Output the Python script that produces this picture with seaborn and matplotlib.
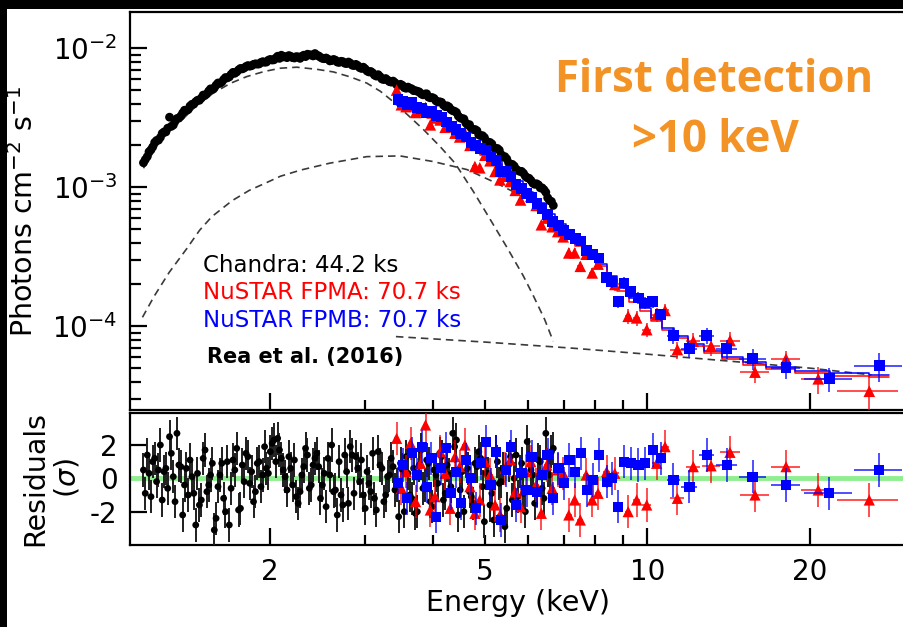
import numpy as np
import matplotlib
matplotlib.use('Agg')
import matplotlib.pyplot as plt
import seaborn as sns
from matplotlib.patches import Rectangle
from matplotlib.ticker import FixedLocator, FixedFormatter, NullFormatter, LogLocator

# ---------------- data ----------------
# Chandra spectrum: energy (keV), flux (1e-3 photons cm^-2 s^-1 keV^-1), residual (sigma)
chandra_E = [
    1.165, 1.184, 1.203, 1.222, 1.242, 1.262, 1.282, 1.302, 1.323, 1.344,
    1.366, 1.388, 1.410, 1.433, 1.456, 1.479, 1.503, 1.527, 1.551, 1.576,
    1.601, 1.627, 1.653, 1.680, 1.707, 1.734, 1.762, 1.790, 1.819, 1.848,
    1.878, 1.908, 1.938, 1.969, 2.001, 2.033, 2.065, 2.098, 2.132, 2.166,
    2.201, 2.236, 2.272, 2.308, 2.345, 2.383, 2.421, 2.460, 2.499, 2.539,
    2.580, 2.621, 2.663, 2.706, 2.749, 2.793, 2.838, 2.883, 2.929, 2.976,
    3.024, 3.072, 3.121, 3.171, 3.222, 3.274, 3.326, 3.379, 3.433, 3.488,
    3.544, 3.601, 3.659, 3.717, 3.777, 3.837, 3.899, 3.961, 4.025, 4.089,
    4.155, 4.221, 4.289, 4.358, 4.428, 4.498, 4.570, 4.644, 4.718, 4.794,
    4.870, 4.948, 5.028, 5.108, 5.190, 5.273, 5.358, 5.443, 5.531, 5.619,
    5.709, 5.800, 5.893, 5.987, 6.083, 6.181, 6.280, 6.380, 6.482, 6.586, 6.692]
chandra_flux = [
    1.50, 1.66, 1.86, 2.10, 2.18, 2.44, 2.50, 3.19, 2.80, 3.12,
    3.25, 3.58, 3.62, 3.95, 4.12, 4.22, 4.60, 4.70, 5.10, 5.18,
    5.62, 5.70, 6.15, 6.22, 6.70, 6.75, 7.15, 7.20, 7.50, 7.48,
    7.72, 7.70, 8.00, 7.95, 8.30, 8.25, 8.75, 8.90, 8.70, 8.85,
    8.55, 8.70, 8.45, 8.90, 9.05, 8.95, 9.15, 8.80, 8.45, 8.50,
    8.10, 8.30, 7.95, 8.05, 7.80, 7.95, 7.55, 7.65, 7.25, 7.30,
    6.85, 6.80, 6.40, 6.45, 6.00, 6.05, 5.75, 5.80, 5.45, 5.50,
    5.20, 5.25, 5.10, 4.95, 4.85, 4.62, 4.70, 4.40, 4.35, 4.10,
    4.08, 3.80, 3.78, 3.55, 3.45, 3.15, 3.10, 2.80, 2.65, 2.60,
    2.38, 2.35, 2.15, 2.10, 1.92, 1.90, 1.72, 1.66, 1.50, 1.46,
    1.35, 1.30, 1.26, 1.17, 1.12, 1.05, 1.04, 0.99, 0.92, 0.80, 0.74]
chandra_resid = [
    0.5, 1.4, -1.1, 1.2, 0.5, -1.3, 0.6, 2.5, 0.1, 2.7,
    0.7, -0.4, -1.0, 0.1, -2.8, -1.6, 1.2, -0.8, 0.2, -3.1,
    -0.5, 0.9, -2.0, -2.8, 1.1, 1.8, -1.8, -0.2, 1.3, 0.4,
    -0.8, 1.0, 0.2, 0.6, 1.6, 2.3, 2.4, 1.2, 0.1, 1.3,
    -0.4, -1.1, -0.8, 0.7, 1.4, -0.4, 1.2, 0.7, -0.4, -1.7,
    0.2, -0.8, -2.2, -1.0, 1.4, -1.5, 1.4, 1.3, -0.2, -1.0,
    0.4, -0.8, -1.2, 1.6, 0.6, -1.0, 0.2, 0.7, -0.4, 0.9,
    -2.0, 0.3, -1.2, -2.1, 0.8, -0.6, 1.1, -1.4, 0.5, -0.3,
    1.3, -0.9, 0.2, 2.7, 2.3, -0.7, -2.0, 0.6, -1.1, 0.9,
    1.6, -0.5, 0.3, -1.6, -2.5, 1.0, -0.2, -2.9, 0.8, -1.3,
    1.4, 0.4, -0.9, 2.2, 0.5, -1.5, 1.1, -0.6, 2.7, 0.2, 1.8]

# Chandra bins lying between the ones above
chandra_E2 = [
    1.174, 1.193, 1.212, 1.232, 1.252, 1.272, 1.292, 1.312, 1.333, 1.355,
    1.377, 1.399, 1.421, 1.444, 1.467, 1.491, 1.515, 1.539, 1.563, 1.588,
    1.614, 1.640, 1.666, 1.693, 1.720, 1.748, 1.776, 1.804, 1.833, 1.863,
    1.893, 1.923, 1.953, 1.985, 2.017, 2.049, 2.081, 2.115, 2.149, 2.183,
    2.218, 2.254, 2.290, 2.326, 2.364, 2.402, 2.440, 2.479, 2.519, 2.559,
    2.600, 2.642, 2.684, 2.727, 2.771, 2.815, 2.860, 2.906, 2.952, 3.000,
    3.048, 3.096, 3.146, 3.196, 3.248, 3.300, 3.352, 3.406, 3.460, 3.516,
    3.572, 3.630, 3.688, 3.747, 3.807, 3.868, 3.930, 3.993, 4.057, 4.122,
    4.188, 4.255, 4.323, 4.393, 4.463, 4.534, 4.607, 4.681, 4.756, 4.832,
    4.909, 4.988, 5.068, 5.149, 5.231, 5.315, 5.400, 5.487, 5.575, 5.664,
    5.754, 5.846, 5.940, 6.035, 6.132, 6.230, 6.330, 6.431, 6.534, 6.639]
chandra_flux2 = [
    1.58, 1.80, 1.95, 2.17, 2.28, 2.50, 2.66, 2.74, 3.00, 3.14,
    3.42, 3.55, 3.84, 3.96, 4.22, 4.38, 4.58, 4.92, 5.05, 5.42,
    5.58, 5.95, 6.12, 6.48, 6.60, 6.98, 7.10, 7.38, 7.42, 7.65,
    7.68, 7.90, 7.92, 8.20, 8.22, 8.50, 8.45, 8.65, 8.55, 8.75,
    8.50, 8.65, 8.75, 8.70, 8.95, 8.80, 8.90, 8.60, 8.40, 8.35,
    8.15, 8.20, 7.90, 8.00, 7.75, 7.80, 7.50, 7.50, 7.15, 7.10,
    6.75, 6.65, 6.30, 6.25, 5.95, 5.90, 5.70, 5.65, 5.40, 5.40,
    5.15, 5.15, 4.95, 4.90, 4.70, 4.68, 4.45, 4.42, 4.18, 4.12,
    3.90, 3.85, 3.62, 3.52, 3.25, 3.12, 2.90, 2.82, 2.60, 2.55,
    2.35, 2.28, 2.10, 2.05, 1.90, 1.85, 1.66, 1.60, 1.46, 1.42,
    1.32, 1.30, 1.20, 1.16, 1.07, 1.06, 0.99, 0.96, 0.84, 0.79]
chandra_resid2 = [
    -0.9, 0.3, 1.0, -0.2, 2.0, 0.4, -0.6, 1.5, -1.4, 0.8,
    -2.2, 0.6, 1.1, -0.9, 0.3, -1.3, 1.7, -0.4, 0.9, -2.4,
    0.2, -1.2, 1.0, -0.6, 0.5, -1.9, 0.8, 1.5, -0.3, -1.4,
    0.9, -0.5, 1.9, 0.3, 2.1, 1.0, 1.7, 0.5, -0.7, 0.6,
    1.1, -1.5, 0.2, 1.8, -0.6, 0.8, 1.5, -1.2, 0.3, 1.2,
    2.0, -0.7, 1.0, -1.6, 0.4, 1.9, -0.9, 0.6, 1.1, -1.8,
    -0.3, 1.5, -1.9, 0.8, -1.4, 0.1, 1.2, -0.7, -2.3, 0.5,
    1.3, -1.0, 0.6, -2.0, 1.7, -0.4, 0.9, -1.7, 0.2, 1.5,
    -1.3, 0.8, -0.5, 1.9, -2.2, 0.4, 1.0, -0.8, -1.5, 0.7,
    1.2, -2.6, 0.3, -0.9, 1.6, -0.3, 0.6, -1.8, 1.3, 0.0,
    -1.1, 0.9, -2.0, 1.4, 0.2, -0.7, 1.0, -1.2, 0.5, 1.6]

# NuSTAR FPMB
fpmb_E = [
    3.45, 3.52, 3.59, 3.66, 3.74, 3.82, 3.90, 3.98, 4.06, 4.15,
    4.24, 4.33, 4.42, 4.51, 4.61, 4.71, 4.81, 4.91, 5.02, 5.13,
    5.24, 5.35, 5.47, 5.59, 5.71, 5.84, 5.97, 6.10, 6.24, 6.38,
    6.53, 6.68, 6.84, 7.00, 7.17, 7.35, 7.53, 7.72, 7.92, 8.13,
    8.41, 8.59, 8.83, 9.05, 9.31, 9.62, 9.89, 10.23, 10.58,
    11.17, 11.96, 12.88, 14.02, 15.66, 18.06, 21.72, 26.88]
fpmb_flux = [
    4.30, 4.15, 3.95, 4.05, 3.75, 3.70, 3.45, 3.50, 3.30, 3.20,
    2.95, 2.75, 2.60, 2.45, 2.30, 2.10, 2.00, 1.90, 1.85, 1.65,
    1.55, 1.30, 1.30, 1.20, 1.05, 0.98, 0.90, 0.84, 0.76, 0.70,
    0.64, 0.57, 0.53, 0.49, 0.46, 0.43, 0.41, 0.35, 0.33, 0.31,
    0.223, 0.210, 0.151, 0.205, 0.178, 0.160, 0.147, 0.151, 0.121,
    0.0857, 0.0688, 0.0857, 0.0688, 0.0583, 0.0503, 0.0419, 0.0522]
fpmb_resid = [
    -0.3, 0.8, -1.2, 1.5, 0.2, 1.9, -0.5, 1.2, -2.3, 0.6,
    1.8, -0.9, 0.4, -1.5, 1.1, 0.0, -1.8, 0.9, 2.2, -0.4,
    1.6, -2.5, 0.5, 1.9, -1.6, 0.3, -0.7, 1.3, -0.8, 0.2,
    1.4, -1.2, 0.6, -0.3, 1.1, 0.4, 1.5, -0.7, -0.1, 1.4,
    -0.2, 0.0, -1.7, 1.0, 0.9, 0.8, 0.9, 1.7, 1.2,
    -0.1, -0.5, 1.4, 0.8, 0.1, -0.4, -0.9, 0.5]
fpmb_xerr = [
    0.035, 0.035, 0.035, 0.035, 0.04, 0.04, 0.04, 0.04, 0.045, 0.045,
    0.045, 0.045, 0.045, 0.05, 0.05, 0.05, 0.05, 0.05, 0.055, 0.055,
    0.055, 0.06, 0.06, 0.06, 0.065, 0.065, 0.065, 0.07, 0.07, 0.075,
    0.075, 0.08, 0.08, 0.085, 0.09, 0.09, 0.095, 0.10, 0.10, 0.11,
    0.09, 0.10, 0.12, 0.12, 0.14, 0.15, 0.14, 0.18, 0.18,
    0.30, 0.40, 0.40, 0.65, 0.90, 1.10, 2.20, 2.70]
fpmb_relerr = [
    0.05, 0.05, 0.05, 0.05, 0.05, 0.05, 0.05, 0.05, 0.05, 0.05,
    0.06, 0.06, 0.06, 0.06, 0.06, 0.06, 0.06, 0.06, 0.06, 0.06,
    0.07, 0.07, 0.07, 0.07, 0.07, 0.07, 0.07, 0.07, 0.07, 0.07,
    0.08, 0.08, 0.08, 0.08, 0.08, 0.08, 0.08, 0.08, 0.08, 0.08,
    0.10, 0.10, 0.10, 0.10, 0.10, 0.10, 0.10, 0.10, 0.10,
    0.13, 0.13, 0.13, 0.15, 0.17, 0.17, 0.20, 0.24]

# NuSTAR FPMA
fpma_E = [
    3.43, 3.50, 3.57, 3.64, 3.72, 3.80, 3.88, 3.96, 4.04, 4.13,
    4.22, 4.31, 4.40, 4.49, 4.59, 4.69, 4.79, 4.89, 5.00, 5.11,
    5.22, 5.33, 5.45, 5.57, 5.69, 5.82, 5.95, 6.08, 6.22, 6.36,
    6.51, 6.66, 6.82, 6.98, 7.15, 7.33, 7.51, 7.70, 7.90, 8.10,
    8.40, 8.70, 9.21, 9.55, 9.97, 10.40, 10.78,
    11.36, 12.16, 13.12, 14.22, 15.82, 18.06, 20.72, 25.76]
fpma_flux = [
    5.00, 3.92, 3.80, 3.85, 3.45, 3.55, 3.75, 2.81, 3.15, 3.05,
    2.70, 2.80, 2.45, 2.30, 2.45, 2.00, 1.41, 1.38, 1.70, 1.55,
    1.30, 1.13, 1.20, 1.10, 0.95, 0.81, 0.92, 0.86, 0.74, 0.537,
    0.60, 0.52, 0.48, 0.44, 0.337, 0.337, 0.27, 0.33, 0.242, 0.28,
    0.229, 0.200, 0.118, 0.115, 0.0946, 0.121, 0.130,
    0.068, 0.078, 0.072, 0.079, 0.0468, 0.0583, 0.0419, 0.0341]
fpma_resid = [
    2.4, -0.6, 0.4, 2.1, -1.4, 0.9, 3.2, -1.9, -1.1, 1.6,
    0.3, -1.8, 1.3, 0.7, 2.0, -0.5, -2.1, -1.3, 1.0, 0.2,
    -1.6, -2.2, 0.6, 1.1, -0.8, -1.7, 0.4, 1.0, -0.4, -2.1,
    0.8, -0.6, 0.5, 0.3, -2.2, -1.3, -2.5, 0.2, -1.3, -0.9,
    0.4, 0.3, -2.0, -1.3, -1.6, 0.9, 1.9,
    -1.2, 0.7, 0.75, 1.56, -1.0, 0.7, -0.7, -1.3]
fpma_xerr = [
    0.035, 0.035, 0.035, 0.035, 0.04, 0.04, 0.04, 0.04, 0.045, 0.045,
    0.045, 0.045, 0.045, 0.05, 0.05, 0.05, 0.05, 0.05, 0.055, 0.055,
    0.055, 0.06, 0.06, 0.06, 0.065, 0.065, 0.065, 0.07, 0.07, 0.075,
    0.075, 0.08, 0.08, 0.085, 0.09, 0.09, 0.095, 0.10, 0.10, 0.11,
    0.13, 0.15, 0.13, 0.14, 0.20, 0.20, 0.20,
    0.35, 0.35, 0.50, 0.60, 0.95, 1.10, 1.45, 3.30]
fpma_relerr = [
    0.05, 0.05, 0.05, 0.05, 0.05, 0.05, 0.05, 0.05, 0.05, 0.05,
    0.06, 0.06, 0.06, 0.06, 0.06, 0.06, 0.06, 0.06, 0.06, 0.06,
    0.07, 0.07, 0.07, 0.07, 0.07, 0.07, 0.07, 0.07, 0.07, 0.07,
    0.08, 0.08, 0.08, 0.08, 0.08, 0.08, 0.08, 0.08, 0.08, 0.08,
    0.10, 0.10, 0.12, 0.12, 0.12, 0.12, 0.12,
    0.14, 0.14, 0.15, 0.16, 0.17, 0.14, 0.22, 0.28]

# total model for NuSTAR (step lines)
model_E = [3.40, 3.60, 3.80, 4.00, 4.20, 4.40, 4.60, 4.80, 5.00, 5.25, 5.50, 5.75,
           6.00, 6.30, 6.60, 6.90, 7.20, 7.50, 7.85, 8.20, 8.60, 9.00, 9.45, 9.90,
           10.40, 10.90, 11.50, 12.30, 13.20, 14.30, 15.70, 17.50, 20.00, 23.50, 28.00]
fpmb_model = [4.2, 3.9, 3.6, 3.3, 3.0, 2.7, 2.35, 2.05, 1.8, 1.55, 1.3, 1.1,
              0.93, 0.77, 0.64, 0.54, 0.46, 0.39, 0.33, 0.28, 0.23, 0.19, 0.16, 0.135,
              0.115, 0.097, 0.085, 0.074, 0.066, 0.060, 0.055, 0.051, 0.048, 0.046, 0.045]
fpma_model = [4.0, 3.75, 3.45, 3.15, 2.85, 2.55, 2.25, 1.95, 1.7, 1.47, 1.24, 1.05,
              0.89, 0.74, 0.61, 0.52, 0.44, 0.375, 0.32, 0.27, 0.22, 0.18, 0.15, 0.128,
              0.11, 0.094, 0.082, 0.072, 0.064, 0.058, 0.053, 0.049, 0.046, 0.044, 0.043]

# model components (dashed)
bb1_E = [1.165, 1.25, 1.363, 1.46, 1.57, 1.69, 1.81, 1.95, 2.09, 2.24, 2.44, 2.62,
         2.82, 3.02, 3.20, 3.38, 3.60, 3.85, 4.13, 4.40, 4.76, 5.07, 5.49, 5.89,
         6.15, 6.45, 6.69]
bb1_F = [1.37, 2.15, 2.97, 3.85, 4.76, 5.6, 6.25, 6.8, 7.18, 7.3, 7.05, 6.75,
         6.2, 5.61, 4.9, 4.13, 3.3, 2.59, 1.96, 1.49, 0.93, 0.62, 0.37, 0.23,
         0.165, 0.112, 0.078]
bb2_E = [1.16, 1.22, 1.30, 1.40, 1.48, 1.56, 1.70, 1.83, 1.97, 2.09, 2.28, 2.58,
         3.02, 3.48, 4.01, 4.63, 5.25, 5.80]
bb2_F = [0.116, 0.165, 0.244, 0.36, 0.49, 0.615, 0.80, 0.95, 1.08, 1.2, 1.33, 1.49,
         1.66, 1.68, 1.53, 1.34, 1.07, 0.88]
pl_E = [3.42, 5.0, 7.3, 10.0, 14.3, 20.0, 26.0]
pl_F = [0.0843, 0.077, 0.0695, 0.063, 0.056, 0.050, 0.0447]

# ---------------- style ----------------
sns.set_theme(style='white')
plt.rcParams['font.family'] = ['DejaVu Sans']
plt.rcParams['axes.unicode_minus'] = False
plt.rcParams['mathtext.fontset'] = 'dejavusans'
plt.rcParams['text.color'] = 'black'
plt.rcParams['axes.labelcolor'] = 'black'
plt.rcParams['xtick.color'] = 'black'
plt.rcParams['ytick.color'] = 'black'

W, H = 904, 627
fig = plt.figure(figsize=(W / 100, H / 100), dpi=100)
fig.patch.set_facecolor('white')


def px_axes(x0, y0, x1, y1):
    return fig.add_axes([x0 / W, 1 - y1 / H, (x1 - x0) / W, (y1 - y0) / H])


def fx(x):
    return x / W


def fy(y):
    return 1 - y / H


ax = px_axes(130, 11.7, 905, 410)
axr = px_axes(130, 413, 905, 545)

E3 = 1e-3
dash = (0, (4.5, 3))
dcol = '#3a3a3a'

# dashed model components
sns.lineplot(x=bb1_E, y=np.array(bb1_F) * E3, ax=ax, color=dcol, lw=1.2,
             linestyle=dash, sort=False, estimator=None, zorder=2)
sns.lineplot(x=bb2_E, y=np.array(bb2_F) * E3, ax=ax, color=dcol, lw=1.2,
             linestyle=dash, sort=False, estimator=None, zorder=2)
sns.lineplot(x=pl_E, y=np.array(pl_F) * E3, ax=ax, color=dcol, lw=1.2,
             linestyle=dash, sort=False, estimator=None, zorder=2)

# step models
sns.lineplot(x=model_E, y=np.array(fpma_model) * E3, ax=ax, color='red', lw=1.1,
             drawstyle='steps-mid', sort=False, estimator=None, zorder=2)
sns.lineplot(x=model_E, y=np.array(fpmb_model) * E3, ax=ax, color='blue', lw=1.1,
             drawstyle='steps-mid', sort=False, estimator=None, zorder=2)

# Chandra
cE = np.concatenate([chandra_E, chandra_E2])
cf = np.concatenate([chandra_flux, chandra_flux2]) * E3
cr = np.concatenate([chandra_resid, chandra_resid2])
sns.scatterplot(x=cE, y=cf, ax=ax, marker='o', s=40, color='black',
                edgecolor='none', linewidth=0, zorder=3)

# FPMA
af = np.array(fpma_flux) * E3
ax.errorbar(fpma_E, af, yerr=af * np.array(fpma_relerr), xerr=fpma_xerr, fmt='none',
            ecolor=(1, 0, 0, 0.75), elinewidth=1.3, zorder=4)
sns.scatterplot(x=fpma_E, y=af, ax=ax, marker='^', s=70, color='red',
                edgecolor='none', linewidth=0, zorder=5)

# FPMB
bf = np.array(fpmb_flux) * E3
ax.errorbar(fpmb_E, bf, yerr=bf * np.array(fpmb_relerr), xerr=fpmb_xerr, fmt='none',
            ecolor=(0, 0, 1, 0.75), elinewidth=1.3, zorder=6)
sns.scatterplot(x=fpmb_E, y=bf, ax=ax, marker='s', s=60, color='blue',
                edgecolor='none', linewidth=0, zorder=7)

# residuals
axr.axhline(0, color='#90EE90', lw=3.5, zorder=1)
axr.errorbar(cE, cr, yerr=1.0, fmt='none', ecolor='#1e1e1e',
             elinewidth=1.4, zorder=3)
sns.scatterplot(x=cE, y=cr, ax=axr, marker='o', s=24, color='black',
                edgecolor='none', linewidth=0, zorder=4)
axr.errorbar(fpma_E, fpma_resid, yerr=1.0, xerr=fpma_xerr, fmt='none',
             ecolor=(1, 0, 0, 0.75), elinewidth=1.3, zorder=5)
sns.scatterplot(x=fpma_E, y=fpma_resid, ax=axr, marker='^', s=65, color='red',
                edgecolor='none', linewidth=0, zorder=6)
axr.errorbar(fpmb_E, fpmb_resid, yerr=1.0, xerr=fpmb_xerr, fmt='none',
             ecolor=(0, 0, 1, 0.75), elinewidth=1.3, zorder=7)
sns.scatterplot(x=fpmb_E, y=fpmb_resid, ax=axr, marker='s', s=55, color='blue',
                edgecolor='none', linewidth=0, zorder=8)

# ---------------- axes ----------------
for a in (ax, axr):
    a.set_xscale('log')
    a.set_xlim(1.1, 30)
    a.xaxis.set_major_locator(FixedLocator([2, 10, 20]))
    a.xaxis.set_minor_locator(FixedLocator([3, 4, 5, 6, 7, 8, 9]))
    a.tick_params(which='both', direction='in', width=1.6, color='black',
                  top=False, right=False, left=True, bottom=True,
                  labelsize=20, labelcolor='black')
    a.tick_params(which='major', length=12, pad=9)
    a.tick_params(which='minor', length=7, pad=9)
    for s in a.spines.values():
        s.set_linewidth(1.6)
        s.set_color('black')
    a.set_xlabel('')
    a.set_ylabel('')
    a.set_facecolor('white')

ax.set_yscale('log')
ax.set_ylim(2.5e-5, 1.83e-2)
ax.yaxis.set_major_locator(LogLocator(base=10, numticks=10))
ax.yaxis.set_minor_locator(LogLocator(base=10, subs=np.arange(2, 10), numticks=20))
ax.tick_params(axis='y', which='major', length=12)
ax.tick_params(axis='y', which='minor', length=8)
ax.xaxis.set_major_formatter(NullFormatter())
ax.xaxis.set_minor_formatter(NullFormatter())

axr.set_ylim(-4.0, 3.92)
axr.yaxis.set_major_locator(FixedLocator([-2, 0, 2]))
axr.yaxis.set_major_formatter(FixedFormatter(['-2', '0', '2']))
axr.xaxis.set_major_formatter(FixedFormatter(['2', '10', '20']))
axr.xaxis.set_minor_formatter(FixedFormatter(['', '', '5', '', '', '', '']))

# ---------------- labels and annotations ----------------
fig.text(fx(24), fy(212), r'Photons cm$^{-2}$ s$^{-1}$', rotation=90,
         ha='center', va='center', fontsize=20.5, color='black')
fig.text(fx(51), fy(478), 'Residuals\n' + r'($\sigma$)', rotation=90,
         ha='center', va='center', multialignment='center', fontsize=20.5,
         linespacing=1.15, color='black')
fig.text(fx(517.5), fy(603), 'Energy (keV)', ha='center', va='center',
         fontsize=20.5, color='black')

fig.text(fx(203), fy(272), 'Chandra: 44.2 ks', color='black', fontsize=16.5,
         ha='left', va='baseline')
fig.text(fx(203), fy(299), 'NuSTAR FPMA: 70.7 ks', color='red', fontsize=16.5,
         ha='left', va='baseline')
fig.text(fx(203), fy(327), 'NuSTAR FPMB: 70.7 ks', color='blue', fontsize=16.5,
         ha='left', va='baseline')
fig.text(fx(207), fy(363), 'Rea et al. (2016)', color='black', fontsize=15,
         fontweight='bold', family=['DejaVu Sans'], ha='left', va='baseline')

orange = '#F39325'
fig.text(fx(714), fy(92), 'First detection', color=orange, fontsize=31.5,
         fontweight='bold', family=['Open Sans', 'DejaVu Sans'], ha='center', va='baseline')
fig.text(fx(715), fy(152), '>10 keV', color=orange, fontsize=31.5,
         fontweight='bold', family=['Open Sans', 'DejaVu Sans'], ha='center', va='baseline')

# black frame strips of the original screenshot
fig.add_artist(Rectangle((0, 0), 7 / W, 1, transform=fig.transFigure,
                         facecolor='black', edgecolor='none', zorder=20))
fig.add_artist(Rectangle((0, 1 - 9 / H), 1, 9 / H, transform=fig.transFigure,
                         facecolor='black', edgecolor='none', zorder=20))

fig.savefig('out.png', dpi=100, facecolor=fig.get_facecolor())
